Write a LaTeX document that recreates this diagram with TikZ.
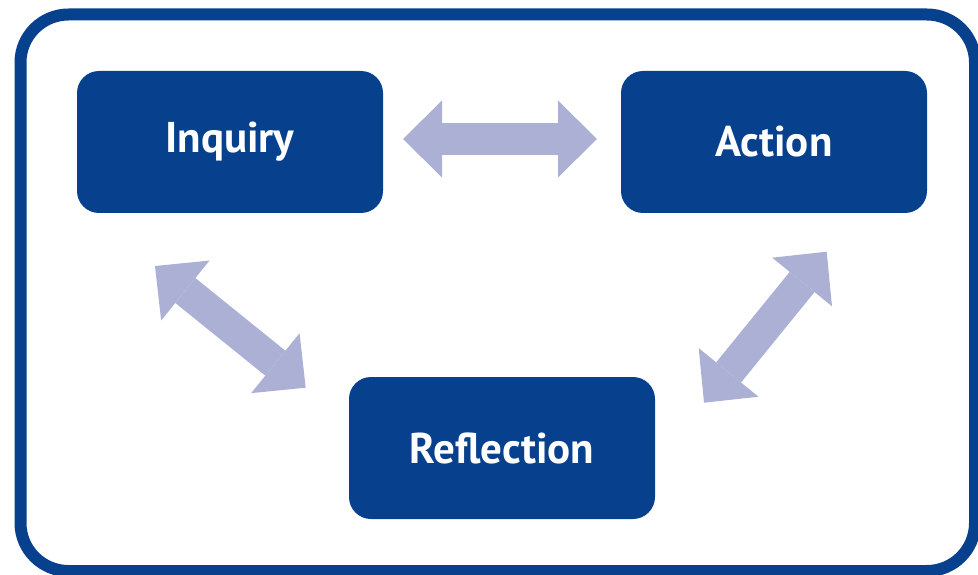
\documentclass[tikz,border=0pt]{standalone}
\usepackage{fontspec}
\setmainfont{PT Sans}
\usetikzlibrary{arrows.meta}
\definecolor{boxblue}{RGB}{7,65,142}
\definecolor{arrowc}{RGB}{171,176,212}
\begin{document}
\begin{tikzpicture}[x=1pt,y=-1pt,
  frame/.style={draw=boxblue,line width=12pt,rounded corners=48pt},
  box/.style={fill=boxblue,rounded corners=22pt,minimum width=306pt,minimum height=142pt,
    inner sep=0pt,text=white,font=\fontsize{43}{50}\selectfont\bfseries},
  twoway/.style={draw=arrowc,line width=32pt,
    {Triangle[length=39pt,width=77pt,line width=0pt]}-{Triangle[length=39pt,width=77pt,line width=0pt]}}]
\useasboundingbox (0,0) rectangle (978,575);
\draw[frame] (20.5,14.5) rectangle (975,571);
\node[box] (inq) at (230,142) {Inquiry};
\node[box] (act) at (774,142) {Action};
\node[box] (ref) at (502,448) {Reflection};
\coordinate (h1) at (403,139);
\coordinate (h2) at (597,139);
\coordinate (l1) at (155,266);
\coordinate (l2) at (305.7,387.7);
\coordinate (r1) at (826.7,251.7);
\coordinate (r2) at (704,402.7);
\draw[twoway] (h1) -- (h2);
\draw[twoway] (l1) -- (l2);
\draw[twoway] (r1) -- (r2);
\end{tikzpicture}
\end{document}
